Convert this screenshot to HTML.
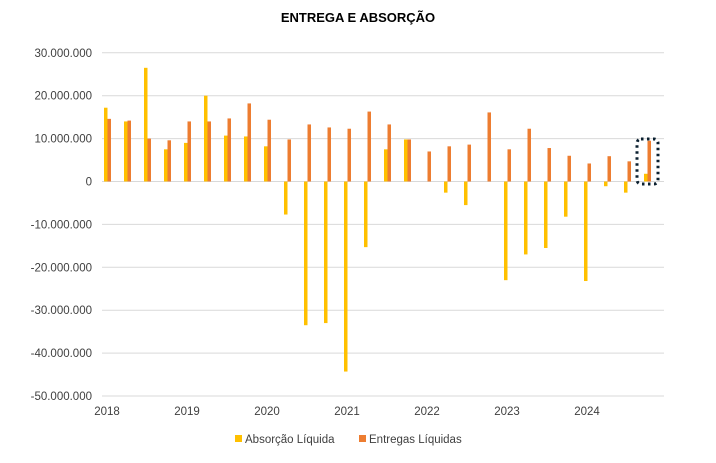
<!DOCTYPE html><html><head><meta charset="utf-8"><style>body{margin:0;background:#fff}</style></head><body>
<svg width="716" height="458" xmlns="http://www.w3.org/2000/svg" font-family="Liberation Sans, sans-serif">
<rect width="716" height="458" fill="#fff"/>
<text x="358" y="22" text-anchor="middle" font-weight="bold" font-size="13">ENTREGA E ABSORÇÃO</text>
<g id="g"></g>
<g font-size="11.5" fill="#404040"></g>
<script>
const s=4.29,z=181.5,ns="http://www.w3.org/2000/svg";
const svg=document.querySelector('svg');
function el(t,a,txt){const e=document.createElementNS(ns,t);for(const k in a)e.setAttribute(k,a[k]);if(txt!=null)e.textContent=txt;svg.appendChild(e);return e;}
for(let v=30;v>=-50;v-=10){const y=z-v*s;el('line',{x1:102,x2:664,y1:y,y2:y,stroke:'#d9d9d9','stroke-width':1});
el('text',{x:92,y:y+4,'text-anchor':'end','font-size':'11.5',fill:'#404040'},v==0?'0':(v<0?'-':'')+Math.abs(v)+'.000.000');}
const Y=[17.2,14,26.5,7.5,9,20,10.7,10.5,8.2,-7.7,-33.5,-33,-44.3,-15.3,7.5,9.8,0,-2.6,-5.5,0,-23,-17,-15.5,-8.2,-23.2,-1.1,-2.6,1.8];
const O=[14.6,14.2,10,9.6,14,14,14.7,18.2,14.4,9.8,13.3,12.6,12.3,16.3,13.3,9.8,7,8.2,8.6,16.1,7.5,12.3,7.8,6,4.2,5.9,4.7,9.5];
for(let i=0;i<28;i++){const x=104+i*20;
const y=Y[i];if(y)el('rect',{x:x,y:y>0?z-y*s:z,width:3.5,height:Math.abs(y)*s,fill:'#ffc000'});
el('rect',{x:x+3.5,y:z-O[i]*s,width:3.5,height:O[i]*s,fill:'#ed7d31'});}
for(let k=0;k<7;k++)el('text',{x:107+80*k,y:415,'text-anchor':'middle','font-size':'11.5',fill:'#404040'},2018+k);
el('rect',{x:637,y:139,width:21,height:45,rx:4,fill:'none',stroke:'#0b2030','stroke-width':3,'stroke-dasharray':'2.5 3.5'});
el('rect',{x:235,y:435,width:7,height:7,fill:'#ffc000'});
el('text',{x:245,y:443,'font-size':'11.5',fill:'#404040'},'Absorção Líquida');
el('rect',{x:359,y:435,width:7,height:7,fill:'#ed7d31'});
el('text',{x:369,y:443,'font-size':'11.5',fill:'#404040'},'Entregas Líquidas');
</script>
</svg></body></html>
